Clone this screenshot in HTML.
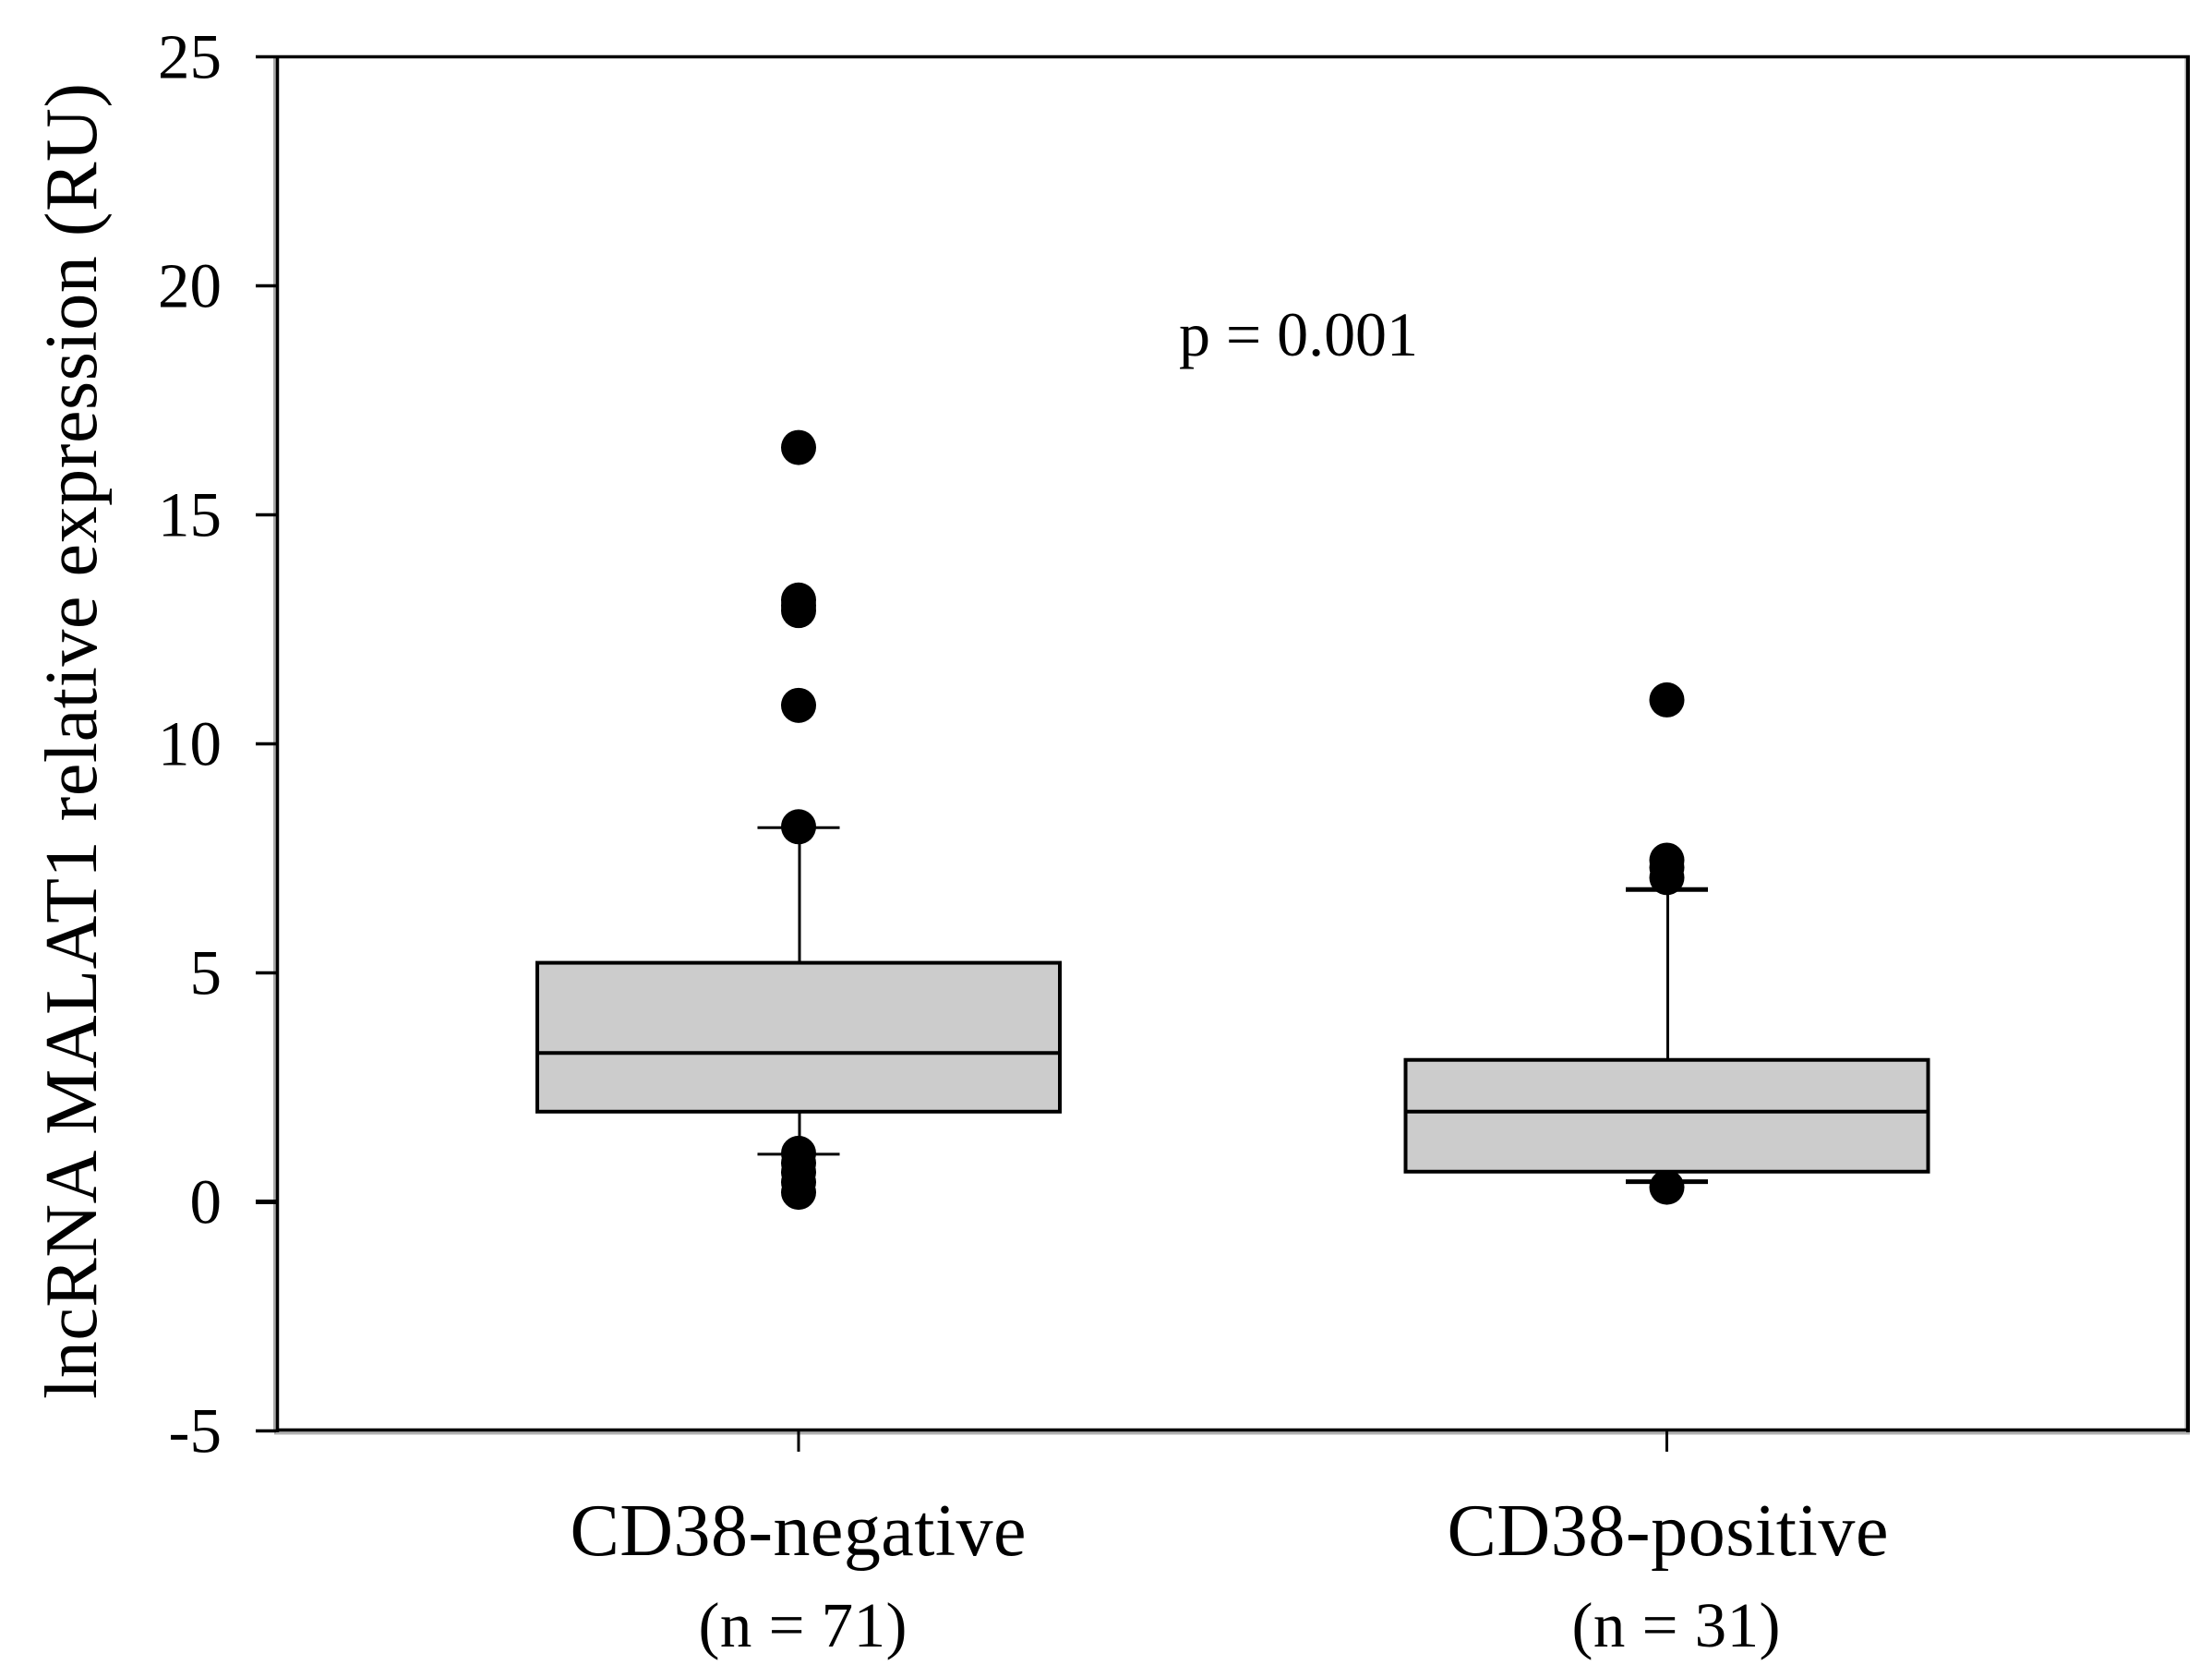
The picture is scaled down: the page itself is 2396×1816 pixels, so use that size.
<!DOCTYPE html>
<html lang="en">
<head>
<meta charset="utf-8">
<title>lncRNA MALAT1 relative expression box plot</title>
<style>
  html, body { margin: 0; padding: 0; background: #fff; }
  svg { display: block; }
  text { font-family: "Liberation Serif", serif; fill: #000; }
</style>
</head>
<body>
<svg id="chart" xmlns="http://www.w3.org/2000/svg" width="2396" height="1816" viewBox="0 0 2396 1816">
  <rect x="0" y="0" width="2396" height="1816" fill="#fff"/>
  <g id="plot-layer"></g>
  <rect x="296" y="62" width="3" height="1486" fill="#a8a8a8"/>
  <rect x="297" y="1550" width="2075" height="3.5" fill="#b0b0b0"/>
  <rect x="2366.5" y="62" width="1.5" height="1486" fill="#a8a8a8"/>
  <line x1="299" y1="61.5" x2="2372" y2="61.5" stroke="#000" stroke-width="3.5"/>
  <line x1="300.5" y1="60" x2="300.5" y2="1551" stroke="#000" stroke-width="3.5"/>
  <line x1="299" y1="1548.5" x2="2372" y2="1548.5" stroke="#000" stroke-width="3.5"/>
  <line x1="2370" y1="60" x2="2370" y2="1551" stroke="#000" stroke-width="4"/>
  <text transform="translate(104,1515) rotate(-90)" font-size="80" textLength="1425" lengthAdjust="spacing">lncRNA MALAT1 relative expression (RU)</text>
  <text x="1277" y="385" font-size="68" textLength="259" lengthAdjust="spacing">p = 0.001</text>
  <g id="axis-layer"></g>
</svg>
<script>
const categories = ["CD38-negative", "CD38-positive"];
const sampleLabels = ["(n = 71)", "(n = 31)"];
const yTickValues = [-5, 0, 5, 10, 15, 20, 25];
const yTickLabels = ["-5", "0", "5", "10", "15", "20", "25"];
const lowerQuartiles = [1.97, 0.66];
const medians = [3.25, 1.97];
const upperQuartiles = [5.22, 3.10];
const whiskerLows = [1.04, 0.44];
const whiskerHighs = [8.17, 6.82];
const outliersNegative = [16.47, 13.14, 13.02, 12.91, 10.84, 8.19, 1.06, 0.85, 0.65, 0.43, 0.21];
const outliersPositive = [10.96, 7.46, 7.30, 7.08, 0.32];

const SVG_NS = "http://www.w3.org/2000/svg";
const plotLayer = document.getElementById("plot-layer");
const axisLayer = document.getElementById("axis-layer");
const allOutliers = [outliersNegative, outliersPositive];

function yScale(value) {
  return 1301.5 - 49.6 * value;
}
function xScale(index) {
  return 865 + 940.5 * index;
}
function make(tag, parent, props) {
  const el = document.createElementNS(SVG_NS, tag);
  for (const key in props) el.setAttribute(key, props[key]);
  parent.appendChild(el);
  return el;
}

const BOX_HALF_WIDTH = 283;
const CAP_HALF_WIDTH = 44.5;
const MARKER_RADIUS = 19;

/* y axis ticks and labels */
yTickValues.forEach(function (value, i) {
  const y = yScale(value);
  const tick = make("line", axisLayer, { x1: 277, x2: 299, y1: y, y2: y, stroke: "#000", "stroke-width": value === 0 ? 5 : 3.5 });
  
  
  const label = make("text", axisLayer, { x: 240, y: y + 23, "text-anchor": "end", "font-size": 69 });
  
  
  label.textContent = yTickLabels[i];
});

/* categories */
categories.forEach(function (name, i) {
  const cx = xScale(i);

  const xTick = make("line", axisLayer, { x1: cx, x2: cx, y1: 1550, y2: 1572, stroke: "#000", "stroke-width": 3 });
  
  

  const catLabel = make("text", axisLayer, { x: i === 0 ? 864.5 : 1806.5, y: 1684, "text-anchor": "middle", "font-size": 80, textLength: i === 0 ? 494 : 478, lengthAdjust: "spacing" });
  
  
  catLabel.textContent = name;

  const nLabel = make("text", axisLayer, { x: i === 0 ? 869.5 : 1815.5, y: 1783, "text-anchor": "middle", "font-size": 69, textLength: 226, lengthAdjust: "spacing" });
  
  
  nLabel.textContent = sampleLabels[i];

  allOutliers[i].forEach(function (value) {
    const dot = make("circle", plotLayer, { cx: cx, cy: yScale(value), r: MARKER_RADIUS, fill: "#000" });
    
    
  });

  const upperWhisker = make("line", plotLayer, { x1: cx + 1, x2: cx + 1, y1: yScale(whiskerHighs[i]), y2: yScale(upperQuartiles[i]), stroke: "#000", "stroke-width": 3 });
  
  

  const lowerWhisker = make("line", plotLayer, { x1: cx + 1, x2: cx + 1, y1: yScale(lowerQuartiles[i]), y2: yScale(whiskerLows[i]), stroke: "#000", "stroke-width": 3 });
  
  

  const upperCap = make("line", plotLayer, { x1: cx - CAP_HALF_WIDTH, x2: cx + CAP_HALF_WIDTH, y1: yScale(whiskerHighs[i]), y2: yScale(whiskerHighs[i]), stroke: "#000", "stroke-width": i === 0 ? 3 : 5 });
  
  

  const lowerCap = make("line", plotLayer, { x1: cx - CAP_HALF_WIDTH, x2: cx + CAP_HALF_WIDTH, y1: yScale(whiskerLows[i]), y2: yScale(whiskerLows[i]), stroke: "#000", "stroke-width": i === 0 ? 3 : 5 });
  
  

  const box = make("rect", plotLayer, {
    x: cx - BOX_HALF_WIDTH,
    y: yScale(upperQuartiles[i]),
    width: BOX_HALF_WIDTH * 2,
    height: yScale(lowerQuartiles[i]) - yScale(upperQuartiles[i]),
    fill: "#cccccc",
    stroke: "#000",
    "stroke-width": 4
  });
  
  

  const medianLine = make("line", plotLayer, { x1: cx - BOX_HALF_WIDTH, x2: cx + BOX_HALF_WIDTH, y1: yScale(medians[i]), y2: yScale(medians[i]), stroke: "#000", "stroke-width": 4 });
  
  
});
</script>
</body>
</html>
